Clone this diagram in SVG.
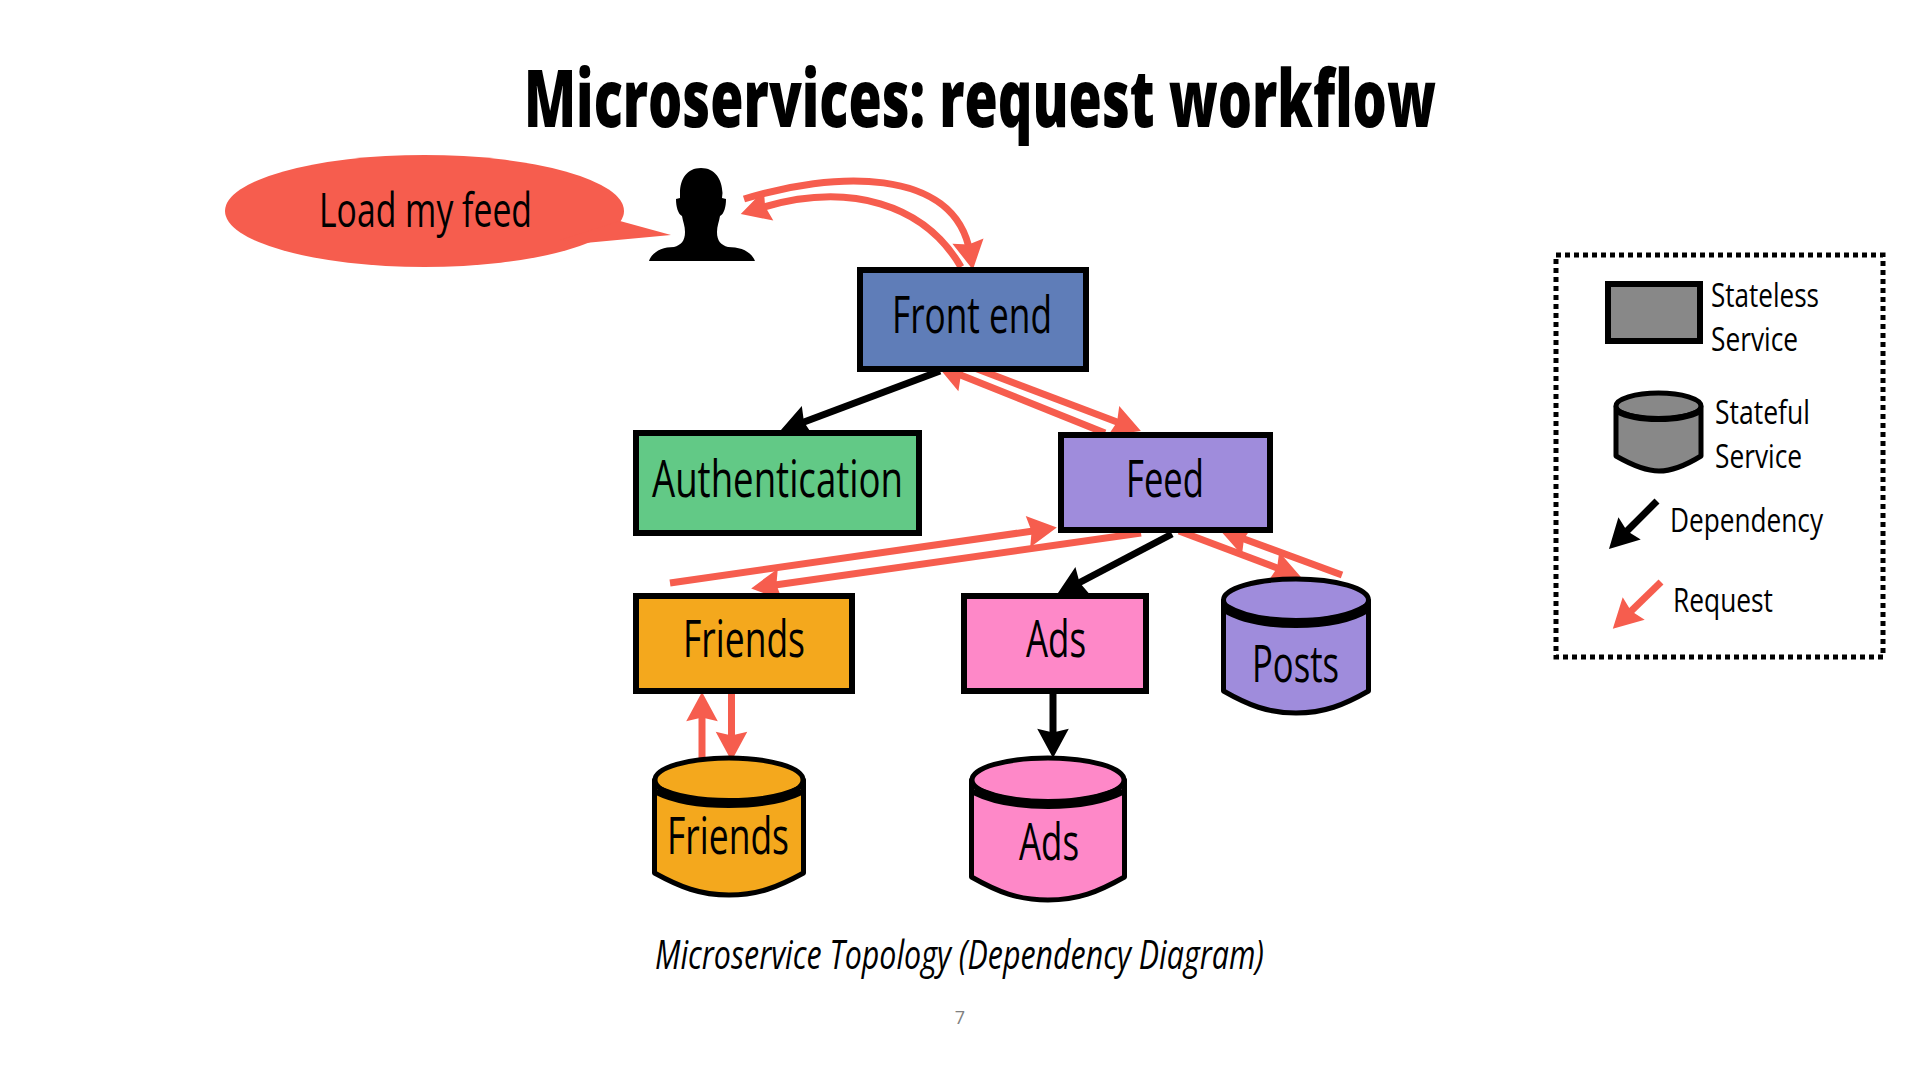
<svg xmlns="http://www.w3.org/2000/svg" width="1920" height="1080" viewBox="0 0 1920 1080">
<style>
text{font-family:"Open Sans","Noto Sans",sans-serif;fill:#000}
.n{font-size:52px}
.l{font-size:32px}
.box{stroke:#000;stroke-width:6}
.cyl{stroke:#000;stroke-width:5;stroke-linejoin:round}
.rim{fill:none;stroke:#000;stroke-width:10}
.req{fill:none;stroke:#F65D4E;stroke-width:7}
.dep{fill:none;stroke:#000;stroke-width:7}
.blue{fill:#5F7DB8}.green{fill:#62C986}.purple{fill:#9F8CDC}.orange{fill:#F4A81D}.pink{fill:#FE88C8}.gray{fill:#888888}
</style>
<defs>
<marker id="hr" markerUnits="userSpaceOnUse" markerWidth="34" markerHeight="34" viewBox="0 -14 26 28" refX="10" refY="0" orient="auto"><path d="M0,-13 L24,0 L0,13 L3,0 Z" fill="#F65D4E"/></marker>
<marker id="hb" markerUnits="userSpaceOnUse" markerWidth="34" markerHeight="34" viewBox="0 -14 26 28" refX="10" refY="0" orient="auto"><path d="M0,-13 L24,0 L0,13 L3,0 Z" fill="#000"/></marker>
</defs>
<text id="title" x="524" y="127" font-size="80" font-weight="800" textLength="912" lengthAdjust="spacingAndGlyphs">Microservices: request workflow</text>

<g id="bubble">
<ellipse cx="424.500" cy="211" rx="199.500" ry="56" fill="#F65D4E"/>
<path d="M620,221 L671,235 L585,243 L560,240 Z" fill="#F65D4E"/>
<text x="319" y="227" font-size="48" textLength="213" lengthAdjust="spacingAndGlyphs">Load my feed</text>
</g>
<g id="user">
<path d="M701,168 C715,168 722,179 722.500,193 L722,198 L726,199 C726,207 724,214 720,216 C719,222 717,226 717,232 C717,241 721,245 728,247 C740,247 751,251 755,261 L649,261 C652,252 662,247 674,247 C681,245 685,241 685,232 C685,226 683,222 682,216 C678,214 676,207 676,199 L680,198 L680,193 C680,179 687,168 701,168 Z" fill="#000"/>
</g>

<g id="connectors">
<path class="req" marker-end="url(#hr)" d="M744,199 C830,172 955,165 970,253"/>
<path class="req" marker-end="url(#hr)" d="M961,267 C925,205 850,180 757,209"/>
<path class="req" marker-end="url(#hr)" d="M972,367 L1125,425"/>
<path class="req" marker-end="url(#hr)" d="M1105,433 L953,372"/>
<path class="dep" marker-end="url(#hb)" d="M940,371 L796,425"/>
<path class="req" marker-end="url(#hr)" d="M670,583 L1040,530"/>
<path class="req" marker-end="url(#hr)" d="M1141,533 L768,586"/>
<path class="dep" marker-end="url(#hb)" d="M1172,534 L1072,586.500"/>
<path class="req" marker-end="url(#hr)" d="M1179,531 L1285,571"/>
<path class="req" marker-end="url(#hr)" d="M1342,575 L1236,536"/>
<path class="req" marker-end="url(#hr)" d="M702,759 L702,709"/>
<path class="req" marker-end="url(#hr)" d="M731.500,694 L731.500,744"/>
<path class="dep" marker-end="url(#hb)" d="M1053,694 L1053,741"/>
</g>

<g id="frontend"><rect class="box blue" x="860" y="270" width="226" height="99"/><text class="n" x="892" y="333" textLength="160" lengthAdjust="spacingAndGlyphs">Front end</text></g>
<g id="auth"><rect class="box green" x="636" y="433" width="283" height="100"/><text class="n" x="652" y="497" textLength="251" lengthAdjust="spacingAndGlyphs">Authentication</text></g>
<g id="feed"><rect class="box purple" x="1061" y="435" width="209" height="95"/><text class="n" x="1126" y="497" textLength="78" lengthAdjust="spacingAndGlyphs">Feed</text></g>
<g id="friends"><rect class="box orange" x="636" y="596" width="216" height="95"/><text class="n" x="683" y="657" textLength="122" lengthAdjust="spacingAndGlyphs">Friends</text></g>
<g id="ads"><rect class="box pink" x="964" y="596" width="182" height="95"/><text class="n" x="1026" y="657" textLength="60" lengthAdjust="spacingAndGlyphs">Ads</text></g>

<g id="posts-db">
<path class="cyl purple" d="M1223.500,601 L1223.500,691 C1248,705 1268,713 1296,713 C1324,713 1344,705 1368.500,691 L1368.500,601 Z"/>
<ellipse class="cyl purple" cx="1296" cy="600" rx="72.500" ry="21"/>
<path class="rim" d="M1225,608 C1243,619 1268,623 1296,623 C1324,623 1349,619 1367,608"/>
<text class="n" x="1252" y="682" textLength="87" lengthAdjust="spacingAndGlyphs">Posts</text>
</g>
<g id="friends-db">
<path class="cyl orange" d="M654.500,780 L654.500,873 C680,887 700,895 729,895 C758,895 778,887 803.500,873 L803.500,780 Z"/>
<ellipse class="cyl orange" cx="729" cy="780" rx="74" ry="22"/>
<path class="rim" d="M657,790 C675,799 700,803 729,803 C758,803 783,799 801,790"/>
<text class="n" x="667" y="854" textLength="122" lengthAdjust="spacingAndGlyphs">Friends</text>
</g>
<g id="ads-db">
<path class="cyl pink" d="M971.500,780 L971.500,877 C998,892 1018,900 1048,900 C1078,900 1098,892 1124.500,877 L1124.500,780 Z"/>
<ellipse class="cyl pink" cx="1048" cy="780" rx="76" ry="22"/>
<path class="rim" d="M974,790 C992,799 1018,804 1048,804 C1078,804 1104,799 1122,790"/>
<text class="n" x="1019" y="860" textLength="60" lengthAdjust="spacingAndGlyphs">Ads</text>
</g>

<g id="legend">
<rect x="1556" y="255" width="327" height="402" fill="none" stroke="#000" stroke-width="5" stroke-dasharray="5 4"/>
<rect class="gray" x="1608" y="284" width="92" height="57" stroke="#000" stroke-width="6"/>
<text class="l" x="1711" y="307" textLength="108" lengthAdjust="spacingAndGlyphs">Stateless</text>
<text class="l" x="1711" y="351" textLength="87" lengthAdjust="spacingAndGlyphs">Service</text>
<path class="cyl gray" d="M1616,407 L1616,456 C1630,464 1645,471 1659,471 C1673,471 1688,464 1701,456 L1701,407 Z"/>
<ellipse class="cyl gray" cx="1658.500" cy="406" rx="42.500" ry="13"/>
<path d="M1617,411 C1628,417 1643,419 1658.500,419 C1674,419 1689,417 1700,411" fill="none" stroke="#000" stroke-width="6"/>
<text class="l" x="1715" y="424" textLength="95" lengthAdjust="spacingAndGlyphs">Stateful</text>
<text class="l" x="1715" y="468" textLength="87" lengthAdjust="spacingAndGlyphs">Service</text>
<path class="dep" marker-end="url(#hb)" d="M1657,501 L1621,537"/>
<text class="l" x="1670" y="532" textLength="153" lengthAdjust="spacingAndGlyphs">Dependency</text>
<path class="req" marker-end="url(#hr)" d="M1661,582 L1625,617"/>
<text class="l" x="1673" y="612" textLength="100" lengthAdjust="spacingAndGlyphs">Request</text>
</g>

<text id="caption" x="655" y="969" font-size="40" font-style="italic" textLength="609" lengthAdjust="spacingAndGlyphs">Microservice Topology (Dependency Diagram)</text>
<text id="page" x="960" y="1024" font-size="18" text-anchor="middle" style="fill:#808080">7</text>
</svg>
